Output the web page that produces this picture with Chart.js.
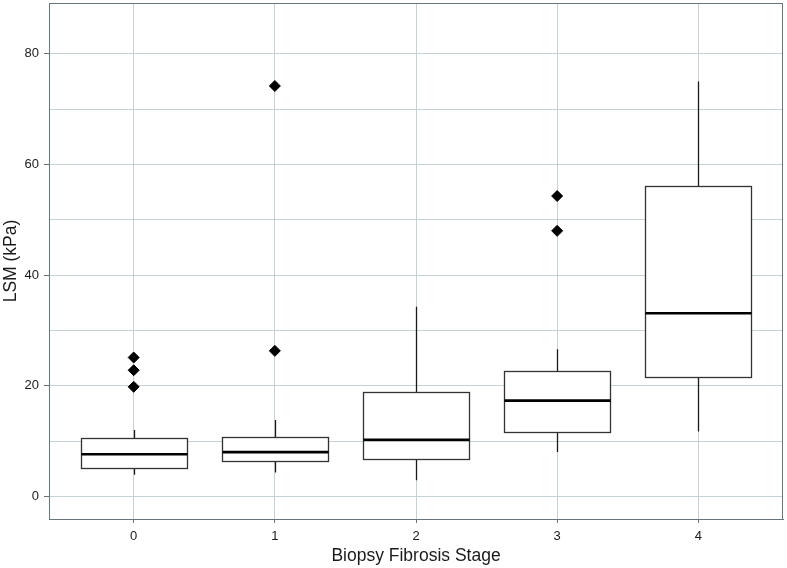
<!DOCTYPE html>
<html>
<head>
<meta charset="utf-8">
<script src="https://cdn.jsdelivr.net/npm/chart.js@4/dist/chart.umd.min.js"></script>
<style>
  html, body { margin: 0; padding: 0; background: #fff; }
  #wrap { width: 787px; height: 568px; }
</style>
</head>
<body>
<div id="wrap"><canvas id="chart" width="787" height="568"></canvas></div>
<script>
// ===================== Data =====================
const stages = ['0', '1', '2', '3', '4'];
const whiskerLow = [3.9, 4.3, 2.9, 8.0, 11.7];
const q1 = [5.2, 6.3, 6.8, 11.6, 21.5];
const medians = [7.6, 8.0, 10.2, 17.3, 33.1];
const q3 = [10.5, 10.7, 18.9, 22.7, 56.2];
const whiskerHigh = [12.0, 13.8, 34.3, 26.6, 75.0];

const outlierStage = [0, 0, 0, 1, 1, 3, 3];
const outlierValue = [25.1, 22.8, 19.8, 26.3, 74.2, 54.3, 48.0];

const yTicks = [0, 10, 20, 30, 40, 50, 60, 70, 80];

const GRID = '#c3d3d6';
const FRAME = '#66777b';
const INK = '#1a1a1a';
const BOX_WIDTH = 0.75;

// ===================== Box plot plugin =====================
const boxPlugin = {
  id: 'boxes',
  beforeDatasetsDraw(chart) {
    const { ctx } = chart;
    const x = chart.scales.x, y = chart.scales.y;
    ctx.save();
    stages.forEach((s, i) => {
      const cx = Math.round(x.getPixelForValue(i)) + 0.5;
      const left = Math.round(x.getPixelForValue(i - BOX_WIDTH / 2)) + 0.5;
      const right = Math.round(x.getPixelForValue(i + BOX_WIDTH / 2)) + 0.5;
      const top = Math.round(y.getPixelForValue(q3[i])) + 0.5;
      const bottom = Math.round(y.getPixelForValue(q1[i])) + 0.5;

      // whiskers
      ctx.strokeStyle = INK;
      ctx.lineWidth = 1.3;
      ctx.beginPath();
      ctx.moveTo(cx, y.getPixelForValue(whiskerHigh[i]));
      ctx.lineTo(cx, top);
      ctx.moveTo(cx, bottom);
      ctx.lineTo(cx, y.getPixelForValue(whiskerLow[i]));
      ctx.stroke();

      // box
      ctx.fillStyle = '#ffffff';
      ctx.fillRect(left, top, right - left, bottom - top);
      ctx.strokeStyle = '#333333';
      ctx.lineWidth = 1.3;
      ctx.strokeRect(left, top, right - left, bottom - top);

      // median
      ctx.strokeStyle = '#000';
      ctx.lineWidth = 2.6;
      ctx.beginPath();
      const my = y.getPixelForValue(medians[i]);
      ctx.moveTo(left, my);
      ctx.lineTo(right, my);
      ctx.stroke();
    });
    ctx.restore();
  },
  afterDraw(chart) {
    // panel frame
    const { ctx, chartArea: a } = chart;
    ctx.save();
    ctx.strokeStyle = FRAME;
    ctx.lineWidth = 1;
    ctx.strokeRect(Math.round(a.left) + 0.5, Math.round(a.top) + 0.5,
      Math.round(a.right - a.left) - 1, Math.round(a.bottom - a.top));
    ctx.restore();
  }
};

// ===================== Chart =====================
new Chart(document.getElementById('chart'), {
  type: 'scatter',
  data: {
    datasets: [{
      label: 'Outliers',
      data: outlierStage.map((s, i) => ({ x: s, y: outlierValue[i] })),
      pointStyle: 'rectRot',
      pointRadius: 5.5,
      pointBackgroundColor: '#000',
      pointBorderColor: '#000',
      pointBorderWidth: 1,
      pointHoverRadius: 5.5,
    }],
  },
  options: {
    responsive: false,
    animation: false,
    layout: { autoPadding: false, padding: { top: 3, right: 4, left: 0, bottom: 0 } },
    plugins: { legend: { display: false }, tooltip: { enabled: false } },
    scales: {
      x: {
        type: 'linear',
        min: -0.6,
        max: 4.6,
        afterBuildTicks: scale => { scale.ticks = stages.map((s, i) => ({ value: i })); },
        afterFit: scale => { scale.height = 49; scale.paddingLeft = 0; scale.paddingRight = 0; },
        ticks: {
          callback: v => stages[v],
          color: INK,
          font: { family: 'Liberation Sans', size: 13 },
          padding: 6,
          maxRotation: 0,
        },
        grid: { color: GRID, lineWidth: 1, tickLength: 4, tickColor: FRAME },
        border: { display: true, color: FRAME, width: 1 },
        title: {
          display: true,
          text: 'Biopsy Fibrosis Stage',
          color: INK,
          font: { family: 'Liberation Sans', size: 17.5 },
          padding: { top: 0, bottom: 1 },
        },
      },
      y: {
        type: 'linear',
        min: -4.1,
        max: 89.2,
        afterBuildTicks: scale => { scale.ticks = yTicks.map(v => ({ value: v })); },
        afterFit: scale => { scale.width = 49; scale.paddingTop = 0; scale.paddingBottom = 0; },
        ticks: {
          callback: v => (v % 20 === 0 ? String(v) : ''),
          color: INK,
          font: { family: 'Liberation Sans', size: 13 },
          padding: 5,
        },
        grid: {
          color: GRID,
          lineWidth: 1,
          tickLength: 5,
          tickColor: c => (c.tick && c.tick.value % 20 === 0 ? FRAME : 'rgba(0,0,0,0)'),
        },
        border: { display: true, color: FRAME, width: 1 },
        title: {
          display: true,
          text: 'LSM (kPa)',
          color: INK,
          font: { family: 'Liberation Sans', size: 17.5 },
          padding: { top: 1, bottom: 0 },
        },
      },
    },
  },
  plugins: [boxPlugin],
});
</script>
</body>
</html>
